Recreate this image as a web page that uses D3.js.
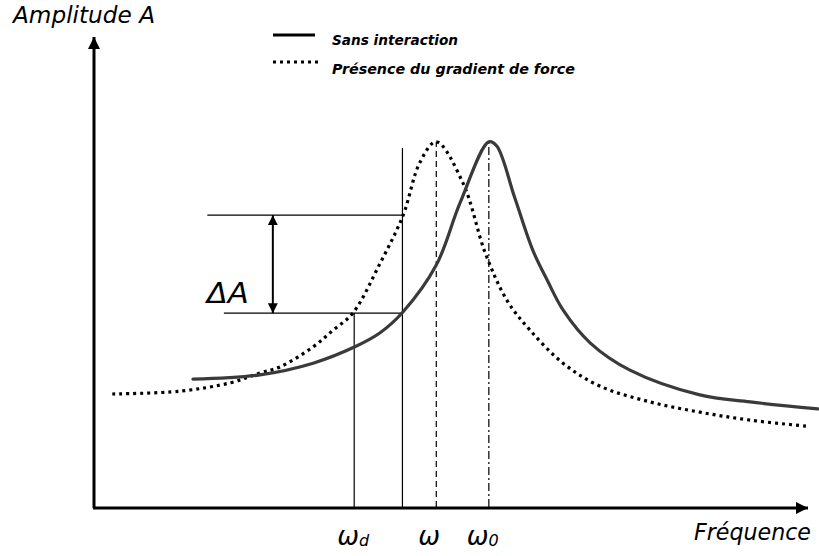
<!DOCTYPE html>
<html><head><meta charset="utf-8">
<script src="https://cdn.jsdelivr.net/npm/d3@7"></script>
<style>
body{margin:0;background:#fff;}
svg text{font-family:'Comic Sans MS','DejaVu Sans',sans-serif;font-style:italic;fill:#000;}
</style></head>
<body><svg id="c" width="819" height="556"></svg>
<script>
// Solid curve: without interaction (frequency, amplitude) in arbitrary units
const solidX = [13.6,22.9,30.3,36.1,39.6,42.8,47.4,50.7,54.7,55.8,58.3,60.8,62.8,65.0,68.8,74.3,84.0,91.0,100.4];
const solidY = [27.4,28.3,30.8,34.3,37.3,41.8,51.8,65.1,78.2,77.3,66.2,55.0,48.6,42.2,35.1,29.3,24.0,22.5,21.0];
// Dotted curve: with force gradient
const dotX = [2.4,11.8,18.8,22.9,25.7,30.3,33.1,35.8,39.6,42.8,45.1,47.4,51.1,54.2,57.2,60.4,65.0,70.1,77.1,84.0,91.0,98.9];
const dotY = [24.2,24.8,26.6,28.7,30.0,34.3,37.9,41.5,52.2,62.5,73.7,78.2,69.4,54.4,44.3,37.9,30.8,25.9,22.5,20.3,18.6,17.3];
// Frequency markers
const markerNames = ["wd","w","w0"];
const markerX = [36.0, 47.4, 54.7];
const driveX = 42.7;           // operating frequency line
const driveTop = 76.9;
const ampHigh = 62.5, ampLow = 41.5;
const ampHighStart = 15.6, ampLowStart = 17.9, deltaArrowX = 24.7;
const legendLabels = ["Sans interaction","Présence du gradient de force"];

const svg = d3.select("#c");
const x = d3.scaleLinear().domain([0,100]).range([95,815]);
const y = d3.scaleLinear().domain([0,100]).range([507,40]);

const defs = svg.append("defs");
function mk(id, orient){
  defs.append("marker").attr("id",id).attr("viewBox","0 0 10 10").attr("refX",10).attr("refY",5)
    .attr("markerWidth",10).attr("markerHeight",10).attr("markerUnits","userSpaceOnUse").attr("orient",orient)
    .append("path").attr("d","M0,0 L10,5 L0,10 Z").attr("fill","#000");
}
mk("ah","auto"); mk("ahs","auto-start-reverse");
defs.append("marker").attr("id","big").attr("viewBox","0 0 12 12").attr("refX",12).attr("refY",6)
    .attr("markerWidth",12).attr("markerHeight",12).attr("markerUnits","userSpaceOnUse").attr("orient","auto")
    .append("path").attr("d","M0,0 L12,6 L0,12 Z").attr("fill","#000");

// Axes
svg.append("line").attr("x1",x(0)-1).attr("x2",x(0)-1).attr("y1",y(0)+1).attr("y2",37)
  .attr("stroke","#000").attr("stroke-width",3).attr("marker-end","url(#big)");
svg.append("line").attr("x1",x(0)-2).attr("x2",808).attr("y1",y(0)+1).attr("y2",y(0)+1)
  .attr("stroke","#000").attr("stroke-width",3).attr("marker-end","url(#big)");

// Vertical reference lines
svg.append("line").attr("x1",x(markerX[0])).attr("x2",x(markerX[0])).attr("y1",y(0)).attr("y2",y(ampLow))
  .attr("stroke","#000").attr("stroke-width",1.2);
svg.append("line").attr("x1",x(driveX)).attr("x2",x(driveX)).attr("y1",y(0)).attr("y2",y(driveTop))
  .attr("stroke","#000").attr("stroke-width",1.2);
svg.append("line").attr("x1",x(markerX[1])).attr("x2",x(markerX[1])).attr("y1",y(0)).attr("y2",y(78.2))
  .attr("stroke","#000").attr("stroke-width",1.2).attr("stroke-dasharray","6,4");
svg.append("line").attr("x1",x(markerX[2])).attr("x2",x(markerX[2])).attr("y1",y(0)).attr("y2",y(78.2))
  .attr("stroke","#000").attr("stroke-width",1.2).attr("stroke-dasharray","8,3,2,3");

// Horizontal amplitude lines
svg.append("line").attr("x1",x(ampHighStart)).attr("x2",x(driveX)).attr("y1",y(ampHigh)).attr("y2",y(ampHigh))
  .attr("stroke","#000").attr("stroke-width",1.2);
svg.append("line").attr("x1",x(ampLowStart)).attr("x2",x(driveX)).attr("y1",y(ampLow)).attr("y2",y(ampLow))
  .attr("stroke","#000").attr("stroke-width",1.2);
svg.append("line").attr("x1",x(deltaArrowX)).attr("x2",x(deltaArrowX)).attr("y1",y(ampHigh)).attr("y2",y(ampLow))
  .attr("stroke","#000").attr("stroke-width",2).attr("marker-end","url(#ah)").attr("marker-start","url(#ahs)");
svg.append("text").attr("x",x(deltaArrowX)-66).attr("y",y(ampLow)-10).attr("font-size",28)
  .attr("textLength",42).attr("lengthAdjust","spacingAndGlyphs").text("ΔA");

// Curves
const line = d3.line().x(d=>x(d[0])).y(d=>y(d[1])).curve(d3.curveCatmullRom.alpha(0.5));
svg.append("path").datum(dotX.map((v,i)=>[v,dotY[i]])).attr("d",line).attr("fill","none")
  .attr("stroke","#000").attr("stroke-width",3.2).attr("stroke-dasharray","3,4");
svg.append("path").datum(solidX.map((v,i)=>[v,solidY[i]])).attr("d",line).attr("fill","none")
  .attr("stroke","#3a3a3a").attr("stroke-width",3.2).attr("stroke-linecap","round");

// Legend
svg.append("line").attr("x1",273).attr("x2",315).attr("y1",35).attr("y2",35).attr("stroke","#000").attr("stroke-width",3);
svg.append("line").attr("x1",273).attr("x2",320).attr("y1",62).attr("y2",62).attr("stroke","#000").attr("stroke-width",3).attr("stroke-dasharray","3,4");
svg.append("text").attr("x",332).attr("y",45).attr("font-size",14).attr("font-weight","bold")
  .attr("textLength",126).attr("lengthAdjust","spacingAndGlyphs").text(legendLabels[0]);
svg.append("text").attr("x",332).attr("y",74).attr("font-size",14).attr("font-weight","bold")
  .attr("textLength",243).attr("lengthAdjust","spacingAndGlyphs").text(legendLabels[1]);

// Axis titles
svg.append("text").attr("x",13).attr("y",23).attr("font-size",23)
  .attr("textLength",142).attr("lengthAdjust","spacingAndGlyphs").text("Amplitude A");
svg.append("text").attr("x",694).attr("y",540).attr("font-size",23)
  .attr("textLength",117).attr("lengthAdjust","spacingAndGlyphs").text("Fréquence");

// Frequency tick labels
const subs = {wd:"d", w:"", w0:"0"};
markerNames.forEach((n,i)=>{
  const t = svg.append("text").attr("x",x(markerX[i])-(n==="w"?18:(n==="wd"?17:22))).attr("y",545).attr("font-size",26);
  t.append("tspan").text("ω");
  if(subs[n]) t.append("tspan").attr("font-size",16).attr("dy",1).text(subs[n]);
});
</script></body></html>
